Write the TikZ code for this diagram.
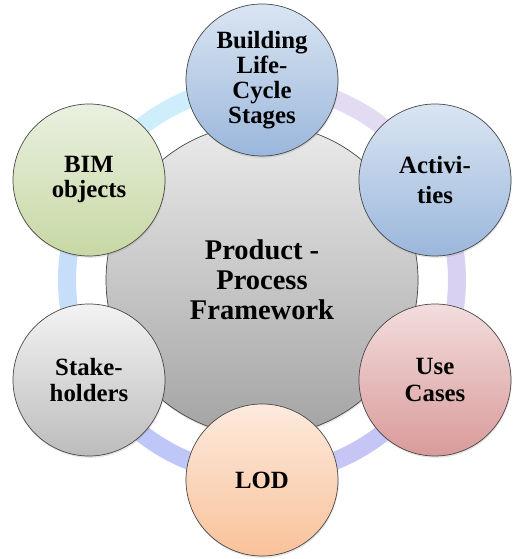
\documentclass[tikz,border=0pt]{standalone}
\usepackage{fontspec}
\setmainfont{Liberation Serif}[BoldFont={Liberation Serif Bold}]
\usetikzlibrary{shadows}

% ring segment colours
\definecolor{ringA}{HTML}{E3DBF2}
\definecolor{ringB}{HTML}{D8D1F2}
\definecolor{ringC}{HTML}{C6C6F6}
\definecolor{ringD}{HTML}{BFC7F8}
\definecolor{ringE}{HTML}{C7DEFA}
\definecolor{ringF}{HTML}{CDEEFA}

\tikzset{
  ringseg/.style={line width=18pt},
  roundbox/.style={circle, draw=black!72, line width=0.7pt, inner sep=0pt,
    align=center, text=black,
    drop shadow={opacity=0.22, shadow xshift=0.6pt, shadow yshift=-1.8pt}},
  sat/.style={roundbox, minimum size=152pt,
    font=\fontsize{24.8}{25}\selectfont\bfseries},
  hub/.style={roundbox, minimum size=312pt,
    top color=white!92!black, bottom color=white!64!black,
    font=\fontsize{28.5}{30}\selectfont\bfseries},
  bluefill/.style={top color={rgb,255:red,218;green,229;blue,242}, bottom color={rgb,255:red,155;green,183;blue,220}},
  redfill/.style={top color={rgb,255:red,243;green,221;blue,221}, bottom color={rgb,255:red,217;green,154;blue,154}},
  peachfill/.style={top color={rgb,255:red,253;green,234;blue,221}, bottom color={rgb,255:red,249;green,194;blue,154}},
  greyfill/.style={top color={rgb,255:red,243;green,243;blue,243}, bottom color={rgb,255:red,188;green,188;blue,188}},
  greenfill/.style={top color={rgb,255:red,234;green,240;blue,224}, bottom color={rgb,255:red,199;green,216;blue,163}},
}

\begin{document}
\begin{tikzpicture}[x=1pt,y=1pt]
  \useasboundingbox (0,0) rectangle (519,559);

  % ring behind everything
  \coordinate (ctr) at (262,279);
  \draw[ringseg, ringA] (ctr) ++(30:195)  arc[start angle=30,  end angle=90,  radius=195];
  \draw[ringseg, ringB] (ctr) ++(-30:195) arc[start angle=-30, end angle=30,  radius=195];
  \draw[ringseg, ringC] (ctr) ++(-90:195) arc[start angle=-90, end angle=-30, radius=195];
  \draw[ringseg, ringD] (ctr) ++(210:195) arc[start angle=210, end angle=270, radius=195];
  \draw[ringseg, ringE] (ctr) ++(150:195) arc[start angle=150, end angle=210, radius=195];
  \draw[ringseg, ringF] (ctr) ++(90:195)  arc[start angle=90,  end angle=150, radius=195];

  % central circle
  \node[hub] (hub) at (262,279) {Product -\\Process\\Framework};

  % satellites
  \node[sat, bluefill]  (stages) at (262,479) {Building\\Life-\\Cycle\\Stages};
  \node[sat, bluefill, font=\fontsize{24.8}{30}\selectfont\bfseries] (act) at (435,379) {Activi-\\ties};
  \node[sat, redfill, font=\fontsize{24.8}{27}\selectfont\bfseries]   (use) at (435,179) {Use\\Cases};
  \node[sat, peachfill] (lod)   at (262,79)  {LOD};
  \node[sat, greyfill, font=\fontsize{24.8}{26}\selectfont\bfseries]  (stake) at (89,179)  {Stake-\\holders};
  \node[sat, greenfill] (bim)   at (89,379)  {BIM\\objects};
\end{tikzpicture}
\end{document}
